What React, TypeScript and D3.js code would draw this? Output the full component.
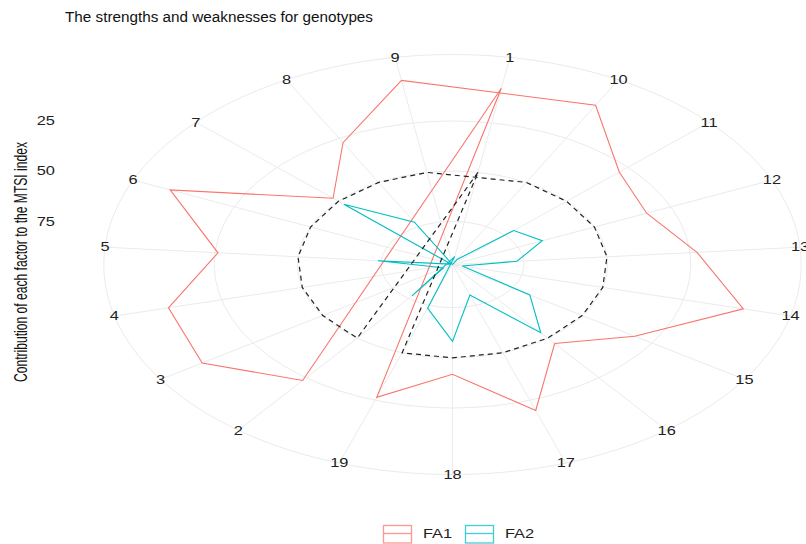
import React, { useRef, useEffect } from "react";
import * as d3 from "d3";

// genotypes in data (path) order
const genotypes = ["1", "2", "3", "4", "5", "6", "7", "8", "9", "10", "11", "12", "13", "14", "15", "16", "17", "18", "19"];
// contribution (%) of each factor to the MTSI index
const fa1 = [7.5, 23.3, 6.8, 8.6, 25.9, 4.0, 47.8, 27.5, 3.5, 6.3, 28.5, 32.9, 22.9, 6.5, 31.2, 46.6, 19.6, 41.8, 26.5];
const fa2 = [92.5, 76.7, 93.2, 91.4, 74.1, 96.0, 52.2, 72.5, 96.5, 93.7, 71.5, 67.1, 77.1, 93.5, 68.8, 53.4, 80.4, 58.2, 73.5];
const expected = 50; // dashed line: equal contribution
const rTicks = [25, 50, 75];
const seriesNames = ["FA1", "FA2"];
const colors = ["#F8766D", "#00BFC4"];

const FONT = "'Liberation Sans', Arial, sans-serif";

const App = () => {
  const chartRef = useRef(null);

  useEffect(() => {
    const width = 806;
    const height = 544;
    const cx = 452.5;
    const cy = 264.5;
    // pixels per npc unit (plot got stretched, so x and y differ)
    const kx = 775;
    const ky = 466.7;
    const stretch = 1.3;

    const el = chartRef.current;
    d3.select(el).select("svg").remove();
    const svg = d3
      .select(el)
      .append("svg")
      .attr("width", width)
      .attr("height", height)
      .style("display", "block")
      .style("background", "#fff");

    // ggplot puts discrete theta in alphabetical order
    const thetaOrder = genotypes.slice().sort();
    const theta = d3.scalePoint().domain(thetaOrder).range([0, 2 * Math.PI]).padding(0.5);

    const [lo, hi] = d3.extent([...fa1, ...fa2, expected]);
    const r = d3.scaleLinear().domain([hi, lo]).range([0, 0.4]); // reversed radius

    const px = (a, d) => cx + kx * d * Math.sin(a);
    const py = (a, d) => cy - ky * d * Math.cos(a);

    const grid = svg.append("g");
    [...rTicks.map((t) => r(t)), 0.45].forEach((d) => {
      grid
        .append("ellipse")
        .attr("cx", cx)
        .attr("cy", cy)
        .attr("rx", kx * d)
        .attr("ry", ky * d)
        .attr("fill", "none")
        .attr("stroke", "#ebebeb")
        .attr("stroke-width", 1);
    });
    thetaOrder.forEach((g) => {
      const a = theta(g);
      grid
        .append("line")
        .attr("x1", cx)
        .attr("y1", cy)
        .attr("x2", px(a, 0.45))
        .attr("y2", py(a, 0.45))
        .attr("stroke", "#ebebeb")
        .attr("stroke-width", 1);
    });

    // theta labels, centred on the outer circle
    thetaOrder.forEach((g) => {
      const a = theta(g);
      svg
        .append("text")
        .attr("transform", `translate(${px(a, 0.45)},${py(a, 0.45)}) scale(${stretch},1)`)
        .attr("text-anchor", "middle")
        .attr("dominant-baseline", "central")
        .style("font-family", FONT)
        .style("font-size", "12.6px")
        .style("fill", "#222")
        .text(g);
    });

    const line = d3.line().curve(d3.curveLinearClosed);
    const pts = (vals) =>
      genotypes.map((g, i) => {
        const a = theta(g);
        return [px(a, r(vals[i])), py(a, r(vals[i]))];
      });

    [fa1, fa2].forEach((vals, k) => {
      svg
        .append("path")
        .attr("d", line(pts(vals)))
        .attr("fill", "none")
        .attr("stroke", colors[k])
        .attr("stroke-width", 1.1);
    });

    svg
      .append("path")
      .attr("d", line(pts(genotypes.map(() => expected))))
      .attr("fill", "none")
      .attr("stroke", "#222")
      .attr("stroke-width", 1.2)
      .attr("stroke-dasharray", "5,4");

    // radius labels on the left
    rTicks.forEach((t) => {
      svg
        .append("text")
        .attr("transform", `translate(55,${cy - ky * r(t)}) scale(${stretch},1)`)
        .attr("text-anchor", "end")
        .attr("dominant-baseline", "central")
        .style("font-family", FONT)
        .style("font-size", "12.6px")
        .style("fill", "#222")
        .text(t);
    });

    svg
      .append("text")
      .attr("transform", `translate(27,262) rotate(-90) scale(1,${stretch})`)
      .attr("text-anchor", "middle")
      .attr("textLength", 240)
      .attr("lengthAdjust", "spacingAndGlyphs")
      .style("font-family", FONT)
      .style("font-size", "13.5px")
      .style("fill", "#111")
      .text("Contribution of each factor to the MTSI index");

    svg
      .append("text")
      .attr("x", 65)
      .attr("y", 22)
      .attr("textLength", 308)
      .attr("lengthAdjust", "spacingAndGlyphs")
      .style("font-family", FONT)
      .style("font-size", "15.5px")
      .style("fill", "#111")
      .text("The strengths and weaknesses for genotypes");

    // legend
    const keyX = [383, 465];
    seriesNames.forEach((name, k) => {
      const g = svg.append("g").attr("transform", `translate(${keyX[k]},525)`);
      g.append("rect")
        .attr("x", 0.5)
        .attr("y", 0.5)
        .attr("width", 28)
        .attr("height", 17.5)
        .attr("fill", "none")
        .attr("stroke", colors[k])
        .attr("stroke-opacity", 0.75)
        .attr("stroke-width", 1.3);
      g.append("line")
        .attr("x1", 1)
        .attr("x2", 28)
        .attr("y1", 8.5)
        .attr("y2", 8.5)
        .attr("stroke", colors[k])
        .attr("stroke-opacity", 0.75)
        .attr("stroke-width", 1.3);
      g.append("text")
        .attr("transform", `translate(40,9) scale(${stretch},1)`)
        .attr("dominant-baseline", "central")
        .style("font-family", FONT)
        .style("font-size", "12.6px")
        .style("fill", "#222")
        .text(name);
    });
  }, []);

  return <div ref={chartRef} style={{ position: "absolute", left: 0, top: 0 }}></div>;
};

export default App;
